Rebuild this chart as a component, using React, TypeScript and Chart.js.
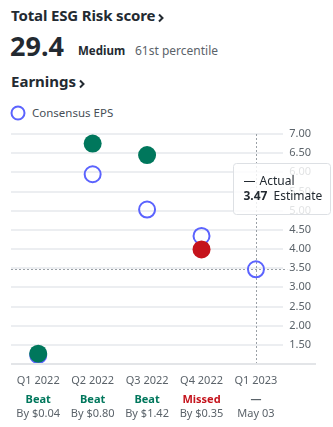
import React, { useEffect, useRef } from "react";
import { Chart, registerables } from "chart.js";

Chart.register(...registerables);

const quarters = ["Q1 2022", "Q2 2022", "Q3 2022", "Q4 2022", "Q1 2023"];
const actualEps: (number | null)[] = [1.27, 6.75, 6.45, 3.99, null];
const consensusEps = [1.23, 5.95, 5.03, 4.34, 3.47];
const outcomes = ["Beat", "Beat", "Beat", "Missed", "—"];
const outcomeDetails = ["By $0.04", "By $0.80", "By $1.42", "By $0.35", "May 03"];
const yMin = 1;
const yMax = 7;
const yStep = 0.5;
const hoverIndex = 4;

const FONT = "'Noto Sans', 'Open Sans', sans-serif";
const GREEN = "#00775c";
const RED = "#c5131c";
const BLUE = "#5b63fe";
const DARK = "#232a31";
const GRAY = "#5b636a";

const outcomeColor = (o: string) => (o === "Beat" ? GREEN : o === "Missed" ? RED : GRAY);

const overlayPlugin = {
  id: "overlay",
  beforeDatasetsDraw(chart: any) {
    const { ctx, chartArea, scales } = chart;
    const x = scales.x.getPixelForValue(hoverIndex);
    const y = scales.y.getPixelForValue(consensusEps[hoverIndex]);
    ctx.save();
    ctx.strokeStyle = "#9aa0a6";
    ctx.lineWidth = 1;
    ctx.setLineDash([2, 2]);
    ctx.beginPath();
    ctx.moveTo(Math.round(x) + 0.5, chartArea.top);
    ctx.lineTo(Math.round(x) + 0.5, chartArea.bottom);
    ctx.moveTo(chartArea.left, Math.round(y) + 0.5);
    ctx.lineTo(chartArea.right + 4, Math.round(y) + 0.5);
    ctx.stroke();
    ctx.restore();
  },
  afterDraw(chart: any) {
    const { ctx, chartArea, scales } = chart;
    ctx.save();
    // bottom axis line
    ctx.strokeStyle = "#e3e5e8";
    ctx.lineWidth = 2;
    ctx.beginPath();
    ctx.moveTo(chartArea.left, chartArea.bottom);
    ctx.lineTo(scales.y.right - 1, chartArea.bottom);
    ctx.stroke();

    // x labels
    ctx.textAlign = "center";
    ctx.textBaseline = "middle";
    quarters.forEach((q, i) => {
      const x = scales.x.getPixelForValue(i);
      ctx.font = `11px ${FONT}`;
      ctx.fillStyle = GRAY;
      ctx.fillText(q, x, chartArea.bottom + 17);
      ctx.font = `bold 11px ${FONT}`;
      ctx.fillStyle = outcomeColor(outcomes[i]);
      ctx.fillText(outcomes[i], x, chartArea.bottom + 36);
      ctx.font = `11px ${FONT}`;
      ctx.fillStyle = GRAY;
      ctx.fillText(outcomeDetails[i], x, chartArea.bottom + 50);
    });

    // tooltip box
    const px = scales.x.getPixelForValue(hoverIndex);
    const bx = Math.round(px - 23) + 0.5;
    const by = Math.round(chartArea.top + 29) + 0.5;
    const bw = 97;
    const bh = 51;
    ctx.fillStyle = "rgba(255,255,255,0.82)";
    ctx.strokeStyle = "#dde0e4";
    ctx.lineWidth = 1;
    ctx.beginPath();
    ctx.roundRect(bx, by, bw, bh, 3);
    ctx.fill();
    ctx.stroke();
    ctx.textAlign = "left";
    ctx.fillStyle = DARK;
    ctx.font = `12px ${FONT}`;
    ctx.fillText("—", bx + 10, by + 18);
    ctx.fillText("Actual", bx + 26, by + 18);
    ctx.font = `bold 12px ${FONT}`;
    const est = consensusEps[hoverIndex].toFixed(2);
    ctx.fillText(est, bx + 10, by + 33);
    const w = ctx.measureText(est).width;
    ctx.font = `12px ${FONT}`;
    ctx.fillText("Estimate", bx + 10 + w + 6, by + 33);
    ctx.restore();
  },
};

function Chevron({ left, top }: { left: number; top: number }) {
  return (
    <svg
      width="8"
      height="10"
      viewBox="0 0 8 10"
      style={{ position: "absolute", left, top }}
    >
      <path d="M2 1.5 L5.5 5 L2 8.5" fill="none" stroke={DARK} strokeWidth="2" />
    </svg>
  );
}

export default function App() {
  const canvasRef = useRef<HTMLCanvasElement | null>(null);

  useEffect(() => {
    if (!canvasRef.current) return;
    const chart = new Chart(canvasRef.current, {
      type: "line",
      data: {
        labels: quarters,
        datasets: [
          {
            label: "Actual",
            data: actualEps,
            showLine: false,
            pointRadius: 9,
            pointBorderWidth: 0,
            pointBackgroundColor: actualEps.map((v, i) =>
              outcomes[i] === "Missed" ? RED : GREEN
            ),
            pointBorderColor: "transparent",
            order: 0,
          },
          {
            label: "Consensus EPS",
            data: consensusEps,
            showLine: false,
            pointRadius: 8,
            pointBorderWidth: 2,
            pointBorderColor: BLUE,
            pointBackgroundColor: "rgba(255,255,255,0)",
            order: 1,
          },
        ],
      },
      options: {
        responsive: false,
        animation: false,
        layout: { padding: { top: 14, bottom: 55, left: 11, right: 16 } },
        plugins: { legend: { display: false }, tooltip: { enabled: false } },
        scales: {
          x: {
            type: "category",
            offset: true,
            grid: { display: false },
            border: { display: false },
            ticks: { display: false },
          },
          y: {
            position: "right",
            min: yMin,
            max: yMax,
            border: { display: false },
            grid: { color: "#eceef1", lineWidth: 2, drawTicks: false },
            ticks: {
              stepSize: yStep,
              padding: 6,
              color: GRAY,
              font: { family: FONT, size: 11 },
              callback: (v: any) => (Number(v) === yMin ? "" : Number(v).toFixed(2)),
            },
          },
        },
      },
      plugins: [overlayPlugin],
    } as any);
    return () => chart.destroy();
  }, []);

  return (
    <div
      style={{
        position: "fixed",
        left: 0,
        top: 0,
        width: 333,
        height: 427,
        background: "#fff",
        fontFamily: FONT,
        color: DARK,
        overflow: "hidden",
      }}
    >
      <div style={{ position: "absolute", left: 11, top: 5, fontSize: 15, fontWeight: 700, lineHeight: "20px", letterSpacing: -0.15 }}>
        Total ESG Risk score
      </div>
      <Chevron left={157} top={13} />
      <div style={{ position: "absolute", left: 10, top: 30, fontSize: 27, fontWeight: 700, lineHeight: "32px" }}>
        29.4
      </div>
      <div style={{ position: "absolute", left: 78, top: 43, fontSize: 11.5, fontWeight: 700, lineHeight: "16px" }}>
        Medium
      </div>
      <div style={{ position: "absolute", left: 135, top: 43, fontSize: 12, color: GRAY, lineHeight: "16px" }}>
        61st percentile
      </div>
      <div style={{ position: "absolute", left: 11, top: 71, fontSize: 15, fontWeight: 700, lineHeight: "20px" }}>
        Earnings
      </div>
      <Chevron left={78} top={79} />
      <svg width="18" height="18" style={{ position: "absolute", left: 9, top: 104 }}>
        <circle cx="9" cy="9" r="6.5" fill="none" stroke={BLUE} strokeWidth="2" />
      </svg>
      <div style={{ position: "absolute", left: 32, top: 105, fontSize: 11.5, color: "#464e56", lineHeight: "16px" }}>
        Consensus EPS
      </div>
      <canvas
        ref={canvasRef}
        width={333}
        height={307}
        style={{ position: "absolute", left: 0, top: 120, width: 333, height: 307 }}
      />
    </div>
  );
}
